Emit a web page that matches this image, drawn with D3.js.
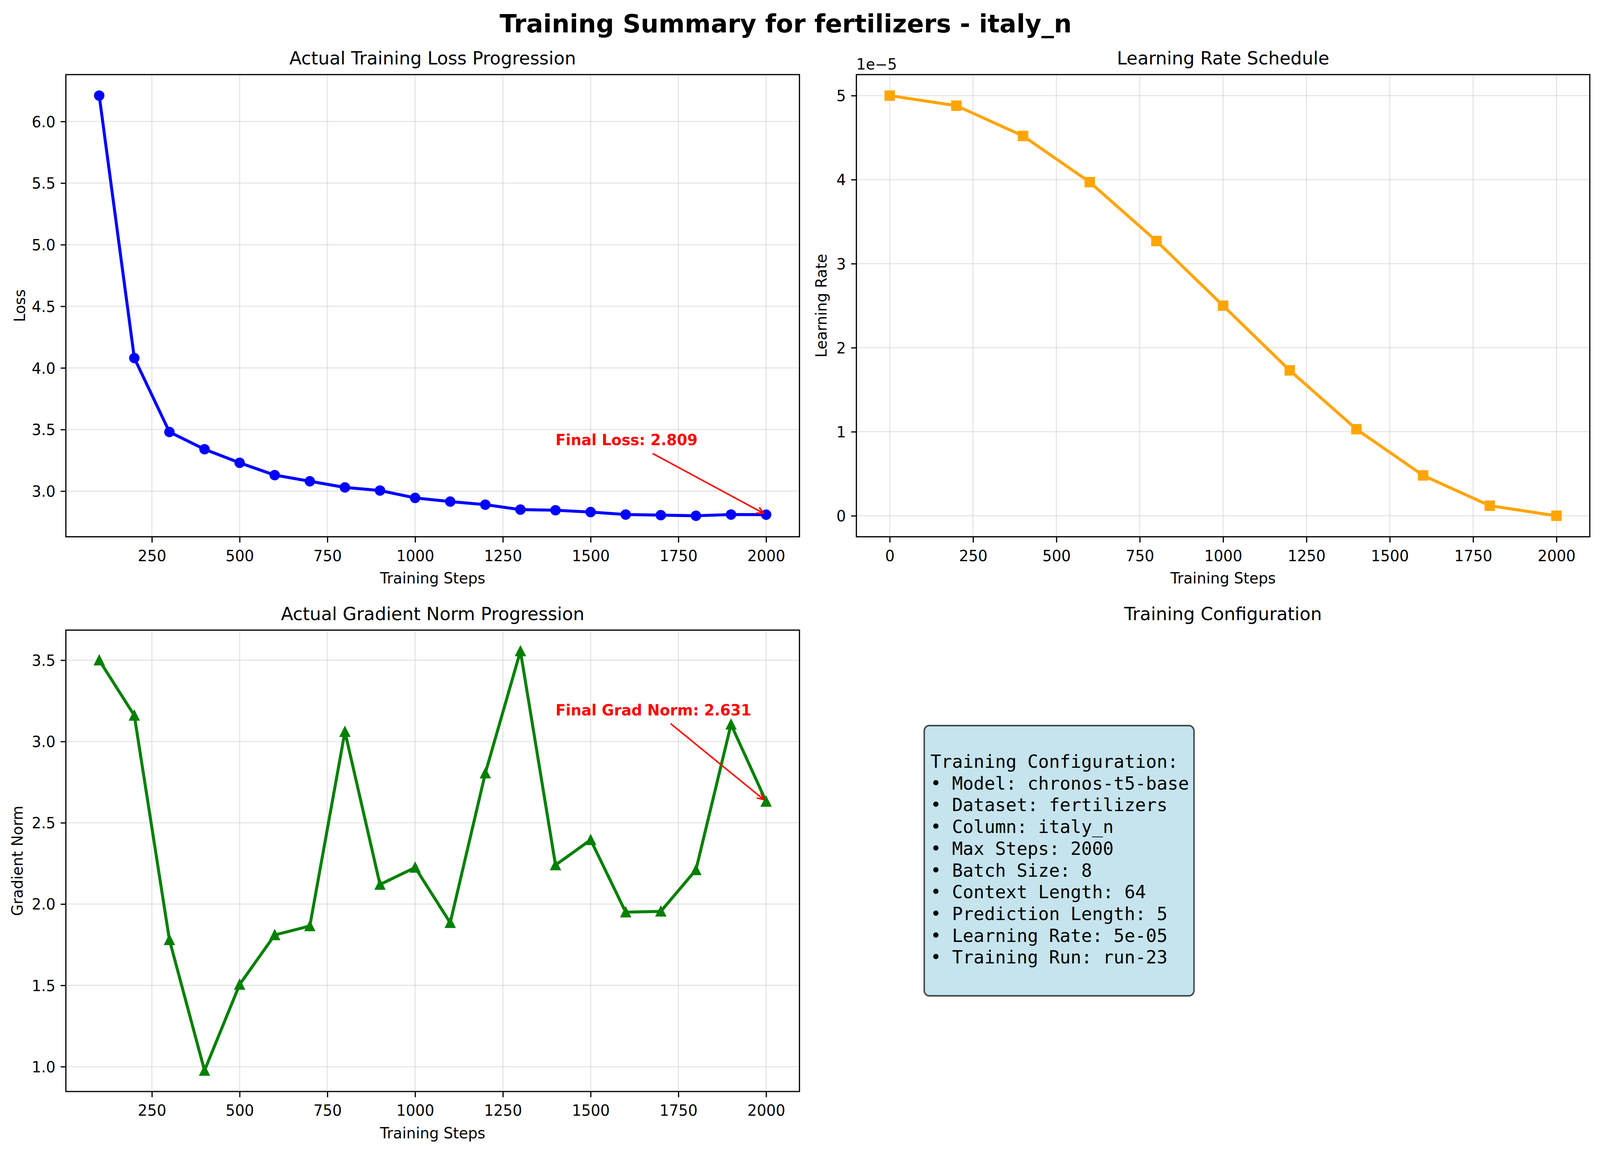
<!DOCTYPE html>
<html><head><meta charset="utf-8">
<script src="https://cdnjs.cloudflare.com/ajax/libs/d3/7.8.5/d3.min.js"></script>
<style>
html,body{margin:0;padding:0;background:#fff;overflow:hidden}
svg{display:block}
text{font-family:"DejaVu Sans",sans-serif;fill:#000}
</style></head><body>
<script>
const lossSteps=[100,200,300,400,500,600,700,800,900,1000,1100,1200,1300,1400,1500,1600,1700,1800,1900,2000];
const lossValues=[6.21,4.08,3.48,3.34,3.23,3.13,3.08,3.03,3.005,2.945,2.915,2.89,2.85,2.845,2.83,2.81,2.805,2.80,2.81,2.809];
const gradValues=[3.50,3.16,1.78,0.976,1.505,1.81,1.865,3.06,2.12,2.225,1.885,2.805,3.556,2.24,2.395,1.95,1.955,2.21,3.105,2.631];
const lrSteps=[0,200,400,600,800,1000,1200,1400,1600,1800,2000];
const lrValues=[5.0,4.88,4.52,3.97,3.27,2.5,1.73,1.03,0.48,0.12,0.0];
const stepTicks=[250,500,750,1000,1250,1500,1750,2000];
const lrStepTicks=[0,250,500,750,1000,1250,1500,1750,2000];
const lossTicks=[3.0,3.5,4.0,4.5,5.0,5.5,6.0];
const gradTicks=[1.0,1.5,2.0,2.5,3.0,3.5];
const lrTicks=[0,1,2,3,4,5];
const configLines=["Training Configuration:","• Model: chronos-t5-base","• Dataset: fertilizers","• Column: italy_n","• Max Steps: 2000","• Batch Size: 8","• Context Length: 64","• Prediction Length: 5","• Learning Rate: 5e-05","• Training Run: run-23"];

// The layout is measured on a 4469-wide canvas and fitted to the real window width.
const H=2955,sx=Math.min(1,window.innerWidth/4469),W=4469*sx,PT=300/72,SP=PT*sx;
const X=v=>v*sx;
const svg=d3.select("body").append("svg").attr("width",W).attr("height",H).attr("viewBox",`0 0 ${W} ${H}`);
svg.append("rect").attr("width",W).attr("height",H).attr("fill","#fff");

const frames={
  loss:{l:X(184),r:X(2233),t:191,b:1374.5},
  lr:{l:X(2392),r:X(4440.5),t:191,b:1374.5},
  grad:{l:X(184),r:X(2233),t:1613.5,b:2795},
  cfg:{l:X(2392),r:X(4440.5),t:1613.5,b:2795}
};
const pad=(a,b)=>{const m=(b-a)*0.05;return [a-m,b+m];};

svg.append("text").attr("x",X(2194.5)).attr("y",83).attr("text-anchor","middle")
  .attr("font-size",16.8*SP).attr("font-weight","bold").text("Training Summary for fertilizers - italy_n");

function triangle(ctx,r){ctx.moveTo(0,-r);ctx.lineTo(-r,r);ctx.lineTo(r,r);ctx.closePath();}
function square(ctx,r){ctx.rect(-r,-r,2*r,2*r);}
function circle(ctx,r){ctx.moveTo(r,0);ctx.arc(0,0,r,0,2*Math.PI);}

function panel(o){
  const f=frames[o.frame];
  const x=d3.scaleLinear().domain(pad(d3.min(o.xs),d3.max(o.xs))).range([f.l,f.r]);
  const y=d3.scaleLinear().domain(pad(d3.min(o.ys),d3.max(o.ys))).range([f.b,f.t]);
  const g=svg.append("g");
  g.append("g").selectAll("line").data(o.xTicks).join("line")
    .attr("x1",d=>x(d)).attr("x2",d=>x(d)).attr("y1",f.t).attr("y2",f.b)
    .attr("stroke","#b0b0b0").attr("stroke-opacity",.3).attr("stroke-width",.8*SP);
  g.append("g").selectAll("line").data(o.yTicks).join("line")
    .attr("x1",f.l).attr("x2",f.r).attr("y1",d=>y(d)).attr("y2",d=>y(d))
    .attr("stroke","#b0b0b0").attr("stroke-opacity",.3).attr("stroke-width",.8*SP);
  const pts=o.xs.map((v,i)=>[v,o.ys[i]]);
  g.append("path").datum(pts)
    .attr("d",d3.line().x(d=>x(d[0])).y(d=>y(d[1])))
    .attr("fill","none").attr("stroke",o.color).attr("stroke-width",2*SP).attr("stroke-linejoin","round");
  g.append("g").selectAll("path").data(pts).join("path")
    .attr("transform",d=>`translate(${x(d[0])},${y(d[1])})`)
    .attr("d",()=>{const p=d3.path();o.marker(p,3*SP);return p.toString();})
    .attr("fill",o.color).attr("stroke",o.color).attr("stroke-width",SP).attr("stroke-linejoin","miter").attr("stroke-miterlimit",10);
  const ax=g.append("g").attr("transform",`translate(0,${f.b})`)
    .call(d3.axisBottom(x).tickValues(o.xTicks).tickFormat(d3.format("d")).tickSize(3.5*PT).tickPadding(3.5*PT));
  const ay=g.append("g").attr("transform",`translate(${f.l},0)`)
    .call(d3.axisLeft(y).tickValues(o.yTicks).tickFormat(o.yFormat).tickSize(3.5*SP).tickPadding(3.5*SP));
  for(const a of [ax,ay]){
    a.select(".domain").remove();
    a.selectAll(".tick line").attr("stroke","#000").attr("stroke-width",.8*SP);
    a.selectAll(".tick text").attr("font-size",10*SP).attr("font-family",'"DejaVu Sans"').attr("fill","#000");
  }
  ax.selectAll(".tick text").attr("dy","33px");
  ay.selectAll(".tick text").attr("dy","0.365em");
  g.append("rect").attr("x",f.l).attr("y",f.t).attr("width",f.r-f.l).attr("height",f.b-f.t)
    .attr("fill","none").attr("stroke","#000").attr("stroke-width",.8*SP);
  g.append("text").attr("x",(f.l+f.r)/2).attr("y",f.t-26).attr("text-anchor","middle").attr("font-size",12*SP).text(o.title);
  g.append("text").attr("x",(f.l+f.r)/2).attr("y",f.b+119.5).attr("text-anchor","middle").attr("font-size",10*SP).text("Training Steps");
  g.append("text").attr("transform",`translate(${X(o.ylabelX)},${(f.t+f.b)/2}) rotate(-90)`).attr("text-anchor","middle").attr("font-size",10*SP).text(o.ylabel);
  if(o.note){
    const t=g.append("text").attr("x",x(o.note.x)).attr("y",y(o.note.y)).attr("font-size",10*SP)
      .attr("font-weight","bold").style("fill","#f00").text(o.note.text);
    const b=t.node().getBBox();
    const tx=x(o.xs[o.xs.length-1]),ty=y(o.ys[o.ys.length-1]);
    const cx=b.x+b.width/2,cy=y(o.note.y)-15;
    const dx=tx-cx,dy=ty-cy,L=Math.hypot(dx,dy),ux=dx/L,uy=dy/L;
    const s=Math.min(36/Math.abs(uy),(b.width/2+10)/Math.abs(ux));
    const sx0=cx+ux*s,sy0=cy+uy*s,ex=tx-ux*2*SP,ey=ty-uy*2*SP;
    const ang=Math.atan2(.2,.4),hl=18.6*sx;
    const rot=a=>[ex-hl*(ux*Math.cos(a)-uy*Math.sin(a)),ey-hl*(ux*Math.sin(a)+uy*Math.cos(a))];
    const h1=rot(ang),h2=rot(-ang);
    g.append("line").attr("x1",sx0).attr("y1",sy0).attr("x2",ex).attr("y2",ey)
      .attr("stroke","#f00").attr("stroke-width",SP);
    g.append("path").attr("d",`M${h1[0]},${h1[1]}L${ex},${ey}L${h2[0]},${h2[1]}`)
      .attr("fill","none").attr("stroke","#f00").attr("stroke-width",SP).attr("stroke-linecap","round").attr("stroke-linejoin","round");
  }
  return {x,y,g};
}

panel({frame:"loss",xs:lossSteps,ys:lossValues,color:"#0000ff",marker:circle,xTicks:stepTicks,yTicks:lossTicks,
  yFormat:d3.format(".1f"),title:"Actual Training Loss Progression",ylabel:"Loss",ylabelX:70,
  note:{x:1400,y:3.372,text:"Final Loss: 2.809"}});
const lrp=panel({frame:"lr",xs:lrSteps,ys:lrValues,color:"#ffa500",marker:square,xTicks:lrStepTicks,yTicks:lrTicks,
  yFormat:d3.format("d"),title:"Learning Rate Schedule",ylabel:"Learning Rate",ylabelX:2309});
lrp.g.append("text").attr("x",frames.lr.l).attr("y",frames.lr.t-13).attr("font-size",10*SP).text("1e\u22125");
panel({frame:"grad",xs:lossSteps,ys:gradValues,color:"#008000",marker:triangle,xTicks:stepTicks,yTicks:gradTicks,
  yFormat:d3.format(".1f"),title:"Actual Gradient Norm Progression",ylabel:"Gradient Norm",ylabelX:63,
  note:{x:1400,y:3.16,text:"Final Grad Norm: 2.631"}});

const c=frames.cfg;
const cg=svg.append("g");
cg.append("text").attr("x",(c.l+c.r)/2).attr("y",c.t-26).attr("text-anchor","middle").attr("font-size",12*SP).text("Training Configuration");
cg.append("rect").attr("x",X(2581.5)).attr("y",1858).attr("width",X(753.5)).attr("height",692).attr("rx",X(14)).attr("ry",14)
  .attr("fill","#add8e6").attr("fill-opacity",.7).attr("stroke","#000").attr("stroke-opacity",.7).attr("stroke-width",SP);
const lineH=55.7;
cg.append("g").selectAll("text").data(configLines).join("text")
  .attr("x",c.l+0.101*(c.r-c.l)).attr("y",(d,i)=>1966+i*lineH)
  .style("font-family",'"DejaVu Sans Mono",monospace').attr("font-size",12*SP).text(d=>d);
</script>
</body></html>
